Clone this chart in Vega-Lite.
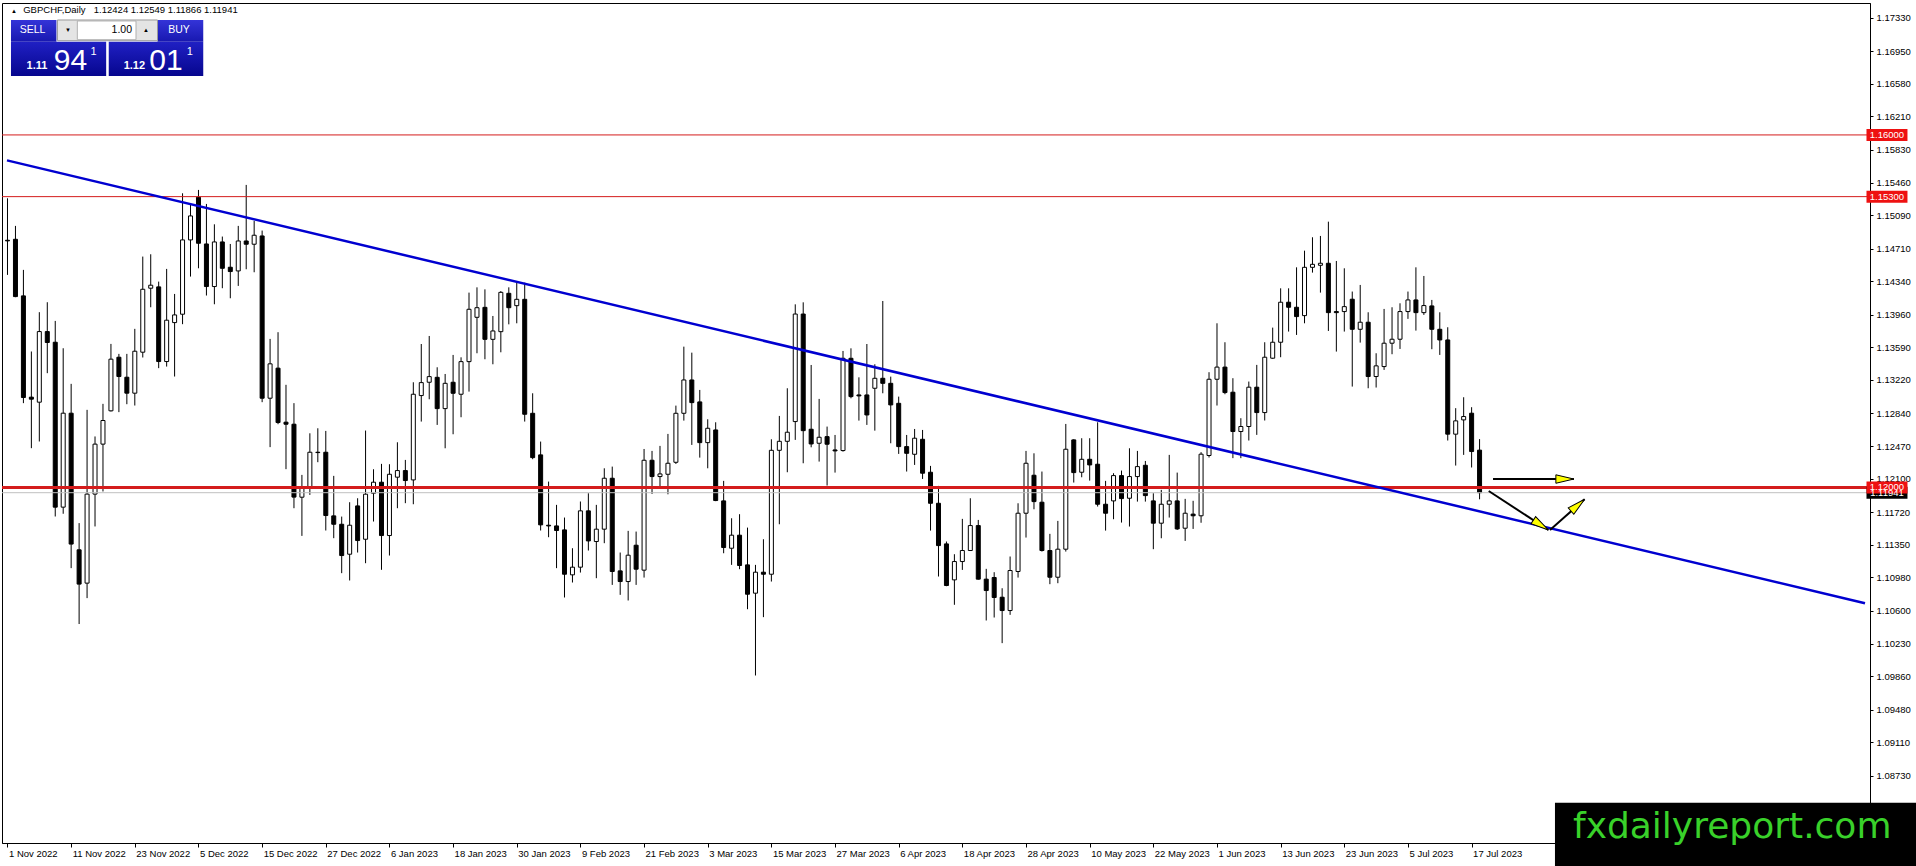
{
  "$schema": "https://vega.github.io/schema/vega-lite/v6.json",
  "width": 1868,
  "height": 840,
  "autosize": {"type": "none"},
  "padding": {"left": 2, "top": 3, "right": 46, "bottom": 23},
  "background": "white",
  "datasets": {
    "candles": [
      {"date": "2022-11-01", "open": 1.14805, "high": 1.15281, "low": 1.14412, "close": 1.14798},
      {"date": "2022-11-02", "open": 1.14816, "high": 1.14968, "low": 1.14159, "close": 1.14166},
      {"date": "2022-11-03", "open": 1.14174, "high": 1.14469, "low": 1.12957, "close": 1.13021},
      {"date": "2022-11-04", "open": 1.13025, "high": 1.13543, "low": 1.12446, "close": 1.13002},
      {"date": "2022-11-07", "open": 1.12968, "high": 1.13989, "low": 1.12522, "close": 1.13769},
      {"date": "2022-11-08", "open": 1.13769, "high": 1.14102, "low": 1.13297, "close": 1.13645},
      {"date": "2022-11-09", "open": 1.13648, "high": 1.1389, "low": 1.11671, "close": 1.11777},
      {"date": "2022-11-10", "open": 1.11777, "high": 1.1358, "low": 1.11702, "close": 1.12843},
      {"date": "2022-11-11", "open": 1.12843, "high": 1.13176, "low": 1.11085, "close": 1.11358},
      {"date": "2022-11-14", "open": 1.11293, "high": 1.11596, "low": 1.10451, "close": 1.10904},
      {"date": "2022-11-15", "open": 1.10915, "high": 1.12881, "low": 1.10745, "close": 1.11925},
      {"date": "2022-11-16", "open": 1.11925, "high": 1.12579, "low": 1.11558, "close": 1.12492},
      {"date": "2022-11-17", "open": 1.12492, "high": 1.12949, "low": 1.11955, "close": 1.1276},
      {"date": "2022-11-18", "open": 1.1287, "high": 1.13629, "low": 1.12862, "close": 1.13456},
      {"date": "2022-11-21", "open": 1.13478, "high": 1.13516, "low": 1.12855, "close": 1.13259},
      {"date": "2022-11-22", "open": 1.13251, "high": 1.13516, "low": 1.12945, "close": 1.1307},
      {"date": "2022-11-23", "open": 1.1307, "high": 1.138, "low": 1.1293, "close": 1.13546},
      {"date": "2022-11-24", "open": 1.13535, "high": 1.1462, "low": 1.13475, "close": 1.14249},
      {"date": "2022-11-25", "open": 1.14261, "high": 1.14646, "low": 1.14045, "close": 1.14295},
      {"date": "2022-11-28", "open": 1.14276, "high": 1.14336, "low": 1.13354, "close": 1.13429},
      {"date": "2022-11-29", "open": 1.13429, "high": 1.1448, "low": 1.13372, "close": 1.13898},
      {"date": "2022-11-30", "open": 1.13871, "high": 1.14196, "low": 1.13259, "close": 1.13958},
      {"date": "2022-12-01", "open": 1.13966, "high": 1.15338, "low": 1.13853, "close": 1.14809},
      {"date": "2022-12-02", "open": 1.14809, "high": 1.15225, "low": 1.14393, "close": 1.15081},
      {"date": "2022-12-05", "open": 1.15293, "high": 1.15376, "low": 1.14487, "close": 1.14771},
      {"date": "2022-12-06", "open": 1.14763, "high": 1.15217, "low": 1.14178, "close": 1.1428},
      {"date": "2022-12-07", "open": 1.1428, "high": 1.14986, "low": 1.14079, "close": 1.14786},
      {"date": "2022-12-08", "open": 1.14786, "high": 1.14847, "low": 1.14261, "close": 1.14487},
      {"date": "2022-12-09", "open": 1.14499, "high": 1.14763, "low": 1.14147, "close": 1.1445},
      {"date": "2022-12-12", "open": 1.14457, "high": 1.14968, "low": 1.14287, "close": 1.14797},
      {"date": "2022-12-13", "open": 1.14797, "high": 1.15433, "low": 1.14476, "close": 1.1476},
      {"date": "2022-12-14", "open": 1.1476, "high": 1.15024, "low": 1.14442, "close": 1.14862},
      {"date": "2022-12-15", "open": 1.14854, "high": 1.14915, "low": 1.12968, "close": 1.13013},
      {"date": "2022-12-16", "open": 1.13013, "high": 1.13686, "low": 1.12458, "close": 1.13403},
      {"date": "2022-12-19", "open": 1.13354, "high": 1.13762, "low": 1.12718, "close": 1.12737},
      {"date": "2022-12-20", "open": 1.12741, "high": 1.13165, "low": 1.12208, "close": 1.12718},
      {"date": "2022-12-21", "open": 1.12718, "high": 1.12957, "low": 1.11765, "close": 1.11891},
      {"date": "2022-12-22", "open": 1.1189, "high": 1.12143, "low": 1.11451, "close": 1.12011},
      {"date": "2022-12-23", "open": 1.12011, "high": 1.12615, "low": 1.11916, "close": 1.124},
      {"date": "2022-12-26", "open": 1.124, "high": 1.12672, "low": 1.12287, "close": 1.12396},
      {"date": "2022-12-27", "open": 1.124, "high": 1.12642, "low": 1.11512, "close": 1.11682},
      {"date": "2022-12-28", "open": 1.11678, "high": 1.12132, "low": 1.11425, "close": 1.11583},
      {"date": "2022-12-29", "open": 1.11583, "high": 1.1167, "low": 1.11028, "close": 1.11228},
      {"date": "2022-12-30", "open": 1.11243, "high": 1.11833, "low": 1.10945, "close": 1.11572},
      {"date": "2023-01-02", "open": 1.11791, "high": 1.11878, "low": 1.11262, "close": 1.11398},
      {"date": "2023-01-03", "open": 1.11413, "high": 1.12646, "low": 1.11141, "close": 1.11924},
      {"date": "2023-01-04", "open": 1.11935, "high": 1.12207, "low": 1.11614, "close": 1.1206},
      {"date": "2023-01-05", "open": 1.1206, "high": 1.12268, "low": 1.11066, "close": 1.11455},
      {"date": "2023-01-06", "open": 1.11455, "high": 1.12264, "low": 1.11228, "close": 1.1215},
      {"date": "2023-01-09", "open": 1.12117, "high": 1.12513, "low": 1.11765, "close": 1.12192},
      {"date": "2023-01-10", "open": 1.12192, "high": 1.12313, "low": 1.11822, "close": 1.12079},
      {"date": "2023-01-11", "open": 1.12086, "high": 1.13194, "low": 1.1181, "close": 1.13058},
      {"date": "2023-01-12", "open": 1.13043, "high": 1.13628, "low": 1.12748, "close": 1.1319},
      {"date": "2023-01-13", "open": 1.13194, "high": 1.13719, "low": 1.13001, "close": 1.13258},
      {"date": "2023-01-16", "open": 1.1325, "high": 1.13364, "low": 1.1271, "close": 1.12895},
      {"date": "2023-01-17", "open": 1.12895, "high": 1.13288, "low": 1.12445, "close": 1.13182},
      {"date": "2023-01-18", "open": 1.13194, "high": 1.13504, "low": 1.12604, "close": 1.13069},
      {"date": "2023-01-19", "open": 1.13058, "high": 1.13477, "low": 1.12797, "close": 1.13428},
      {"date": "2023-01-20", "open": 1.13428, "high": 1.14211, "low": 1.13088, "close": 1.14022},
      {"date": "2023-01-23", "open": 1.13931, "high": 1.14271, "low": 1.13523, "close": 1.1404},
      {"date": "2023-01-24", "open": 1.14044, "high": 1.14248, "low": 1.13455, "close": 1.13681},
      {"date": "2023-01-25", "open": 1.13681, "high": 1.13946, "low": 1.13398, "close": 1.13776},
      {"date": "2023-01-26", "open": 1.13768, "high": 1.14229, "low": 1.13534, "close": 1.14214},
      {"date": "2023-01-27", "open": 1.14203, "high": 1.14271, "low": 1.13851, "close": 1.1404},
      {"date": "2023-01-30", "open": 1.14063, "high": 1.14335, "low": 1.13863, "close": 1.14135},
      {"date": "2023-01-31", "open": 1.14135, "high": 1.14324, "low": 1.12748, "close": 1.12831},
      {"date": "2023-02-01", "open": 1.12842, "high": 1.13069, "low": 1.12321, "close": 1.12339},
      {"date": "2023-02-02", "open": 1.1237, "high": 1.12521, "low": 1.11512, "close": 1.11576},
      {"date": "2023-02-03", "open": 1.11572, "high": 1.12067, "low": 1.11436, "close": 1.11564},
      {"date": "2023-02-06", "open": 1.11564, "high": 1.11803, "low": 1.11085, "close": 1.11512},
      {"date": "2023-02-07", "open": 1.11519, "high": 1.11659, "low": 1.10752, "close": 1.11016},
      {"date": "2023-02-08", "open": 1.11009, "high": 1.11311, "low": 1.10922, "close": 1.11096},
      {"date": "2023-02-09", "open": 1.11096, "high": 1.11841, "low": 1.11035, "close": 1.11735},
      {"date": "2023-02-10", "open": 1.11735, "high": 1.11935, "low": 1.11285, "close": 1.11394},
      {"date": "2023-02-13", "open": 1.11387, "high": 1.11803, "low": 1.10971, "close": 1.11527},
      {"date": "2023-02-14", "open": 1.11527, "high": 1.12218, "low": 1.11368, "close": 1.12105},
      {"date": "2023-02-15", "open": 1.12105, "high": 1.12237, "low": 1.10895, "close": 1.11047},
      {"date": "2023-02-16", "open": 1.11054, "high": 1.11262, "low": 1.10782, "close": 1.10933},
      {"date": "2023-02-17", "open": 1.10933, "high": 1.11508, "low": 1.10718, "close": 1.11232},
      {"date": "2023-02-20", "open": 1.11345, "high": 1.115, "low": 1.10895, "close": 1.11073},
      {"date": "2023-02-21", "open": 1.11062, "high": 1.12437, "low": 1.10978, "close": 1.12309},
      {"date": "2023-02-22", "open": 1.12309, "high": 1.12415, "low": 1.11927, "close": 1.12124},
      {"date": "2023-02-23", "open": 1.12124, "high": 1.12472, "low": 1.11992, "close": 1.12154},
      {"date": "2023-02-24", "open": 1.1215, "high": 1.12608, "low": 1.11923, "close": 1.12275},
      {"date": "2023-02-27", "open": 1.12286, "high": 1.12929, "low": 1.12267, "close": 1.12842},
      {"date": "2023-02-28", "open": 1.12842, "high": 1.13598, "low": 1.12759, "close": 1.1322},
      {"date": "2023-03-01", "open": 1.1322, "high": 1.1353, "low": 1.12483, "close": 1.12963},
      {"date": "2023-03-02", "open": 1.12971, "high": 1.13107, "low": 1.12339, "close": 1.12509},
      {"date": "2023-03-03", "open": 1.12509, "high": 1.12774, "low": 1.12218, "close": 1.12672},
      {"date": "2023-03-06", "open": 1.12653, "high": 1.1274, "low": 1.11845, "close": 1.11852},
      {"date": "2023-03-07", "open": 1.11848, "high": 1.12075, "low": 1.11254, "close": 1.11319},
      {"date": "2023-03-08", "open": 1.11311, "high": 1.11651, "low": 1.11122, "close": 1.11459},
      {"date": "2023-03-09", "open": 1.11459, "high": 1.11697, "low": 1.11073, "close": 1.11115},
      {"date": "2023-03-10", "open": 1.11122, "high": 1.11545, "low": 1.10619, "close": 1.10789},
      {"date": "2023-03-13", "open": 1.10801, "high": 1.11122, "low": 1.09867, "close": 1.11039},
      {"date": "2023-03-14", "open": 1.11039, "high": 1.11413, "low": 1.10529, "close": 1.11016},
      {"date": "2023-03-15", "open": 1.11016, "high": 1.12547, "low": 1.10933, "close": 1.12422},
      {"date": "2023-03-16", "open": 1.12422, "high": 1.12812, "low": 1.11583, "close": 1.12524},
      {"date": "2023-03-17", "open": 1.12524, "high": 1.13126, "low": 1.12173, "close": 1.12627},
      {"date": "2023-03-20", "open": 1.12748, "high": 1.14078, "low": 1.1254, "close": 1.13968},
      {"date": "2023-03-21", "open": 1.13968, "high": 1.14101, "low": 1.12275, "close": 1.12645},
      {"date": "2023-03-22", "open": 1.12661, "high": 1.1339, "low": 1.12456, "close": 1.12494},
      {"date": "2023-03-23", "open": 1.12502, "high": 1.13005, "low": 1.12294, "close": 1.1257},
      {"date": "2023-03-24", "open": 1.12577, "high": 1.12691, "low": 1.12022, "close": 1.12491},
      {"date": "2023-03-27", "open": 1.12426, "high": 1.12596, "low": 1.12169, "close": 1.12415},
      {"date": "2023-03-28", "open": 1.12419, "high": 1.13549, "low": 1.12407, "close": 1.13466},
      {"date": "2023-03-29", "open": 1.13466, "high": 1.13579, "low": 1.13012, "close": 1.13031},
      {"date": "2023-03-30", "open": 1.1305, "high": 1.1325, "low": 1.12759, "close": 1.13039},
      {"date": "2023-03-31", "open": 1.1305, "high": 1.13628, "low": 1.1271, "close": 1.12823},
      {"date": "2023-04-03", "open": 1.13126, "high": 1.13398, "low": 1.12645, "close": 1.13239},
      {"date": "2023-04-04", "open": 1.13239, "high": 1.14116, "low": 1.13069, "close": 1.13182},
      {"date": "2023-04-05", "open": 1.13182, "high": 1.13258, "low": 1.12502, "close": 1.12937},
      {"date": "2023-04-06", "open": 1.12955, "high": 1.13031, "low": 1.12381, "close": 1.12464},
      {"date": "2023-04-07", "open": 1.12464, "high": 1.12596, "low": 1.12181, "close": 1.12388},
      {"date": "2023-04-10", "open": 1.12377, "high": 1.12664, "low": 1.12256, "close": 1.12559},
      {"date": "2023-04-11", "open": 1.12547, "high": 1.12653, "low": 1.12097, "close": 1.12162},
      {"date": "2023-04-12", "open": 1.12173, "high": 1.12245, "low": 1.11511, "close": 1.11821},
      {"date": "2023-04-13", "open": 1.11821, "high": 1.12018, "low": 1.1099, "close": 1.11341},
      {"date": "2023-04-14", "open": 1.1136, "high": 1.11387, "low": 1.1088, "close": 1.10888},
      {"date": "2023-04-17", "open": 1.10952, "high": 1.11243, "low": 1.10669, "close": 1.1116},
      {"date": "2023-04-18", "open": 1.1116, "high": 1.11644, "low": 1.11065, "close": 1.11285},
      {"date": "2023-04-19", "open": 1.11285, "high": 1.11878, "low": 1.1128, "close": 1.11568},
      {"date": "2023-04-20", "open": 1.11568, "high": 1.11632, "low": 1.10955, "close": 1.1096},
      {"date": "2023-04-21", "open": 1.1096, "high": 1.11077, "low": 1.10491, "close": 1.10831},
      {"date": "2023-04-24", "open": 1.10979, "high": 1.11039, "low": 1.10525, "close": 1.10752},
      {"date": "2023-04-25", "open": 1.10755, "high": 1.10857, "low": 1.10234, "close": 1.10604},
      {"date": "2023-04-26", "open": 1.10604, "high": 1.11217, "low": 1.10555, "close": 1.11058},
      {"date": "2023-04-27", "open": 1.11047, "high": 1.11821, "low": 1.10978, "close": 1.11708},
      {"date": "2023-04-28", "open": 1.11708, "high": 1.12415, "low": 1.11432, "close": 1.12275},
      {"date": "2023-05-01", "open": 1.12139, "high": 1.12388, "low": 1.11753, "close": 1.1184},
      {"date": "2023-05-02", "open": 1.11833, "high": 1.12181, "low": 1.11273, "close": 1.11285},
      {"date": "2023-05-03", "open": 1.11285, "high": 1.11474, "low": 1.10903, "close": 1.10982},
      {"date": "2023-05-04", "open": 1.10982, "high": 1.11621, "low": 1.10914, "close": 1.113},
      {"date": "2023-05-05", "open": 1.113, "high": 1.12721, "low": 1.11273, "close": 1.12434},
      {"date": "2023-05-08", "open": 1.1254, "high": 1.12547, "low": 1.12056, "close": 1.12169},
      {"date": "2023-05-09", "open": 1.12173, "high": 1.12559, "low": 1.12116, "close": 1.1232},
      {"date": "2023-05-10", "open": 1.1232, "high": 1.12559, "low": 1.12078, "close": 1.12256},
      {"date": "2023-05-11", "open": 1.12264, "high": 1.1274, "low": 1.11784, "close": 1.1181},
      {"date": "2023-05-12", "open": 1.1181, "high": 1.12075, "low": 1.11511, "close": 1.11708},
      {"date": "2023-05-15", "open": 1.11848, "high": 1.12162, "low": 1.1164, "close": 1.12135},
      {"date": "2023-05-16", "open": 1.12135, "high": 1.12192, "low": 1.11602, "close": 1.11874},
      {"date": "2023-05-17", "open": 1.11878, "high": 1.12445, "low": 1.11557, "close": 1.12124},
      {"date": "2023-05-18", "open": 1.12124, "high": 1.12415, "low": 1.1184, "close": 1.12237},
      {"date": "2023-05-19", "open": 1.12252, "high": 1.12301, "low": 1.1184, "close": 1.11908},
      {"date": "2023-05-22", "open": 1.11848, "high": 1.11935, "low": 1.113, "close": 1.11595},
      {"date": "2023-05-23", "open": 1.11595, "high": 1.11973, "low": 1.11424, "close": 1.1181},
      {"date": "2023-05-24", "open": 1.1181, "high": 1.1237, "low": 1.11659, "close": 1.11848},
      {"date": "2023-05-25", "open": 1.11848, "high": 1.12169, "low": 1.11519, "close": 1.1153},
      {"date": "2023-05-26", "open": 1.11538, "high": 1.11871, "low": 1.11394, "close": 1.11708},
      {"date": "2023-05-29", "open": 1.11698, "high": 1.11849, "low": 1.1153, "close": 1.11679},
      {"date": "2023-05-30", "open": 1.11679, "high": 1.12401, "low": 1.116, "close": 1.12378},
      {"date": "2023-05-31", "open": 1.12363, "high": 1.13308, "low": 1.1234, "close": 1.13228},
      {"date": "2023-06-01", "open": 1.13228, "high": 1.13863, "low": 1.1293, "close": 1.13366},
      {"date": "2023-06-02", "open": 1.13366, "high": 1.13648, "low": 1.13058, "close": 1.13077},
      {"date": "2023-06-05", "open": 1.13081, "high": 1.1324, "low": 1.12333, "close": 1.12635},
      {"date": "2023-06-06", "open": 1.12635, "high": 1.12786, "low": 1.12333, "close": 1.12692},
      {"date": "2023-06-07", "open": 1.12692, "high": 1.13202, "low": 1.12533, "close": 1.13138},
      {"date": "2023-06-08", "open": 1.13138, "high": 1.13391, "low": 1.12597, "close": 1.1285},
      {"date": "2023-06-09", "open": 1.1285, "high": 1.13648, "low": 1.1276, "close": 1.13478},
      {"date": "2023-06-12", "open": 1.13467, "high": 1.13814, "low": 1.1346, "close": 1.13648},
      {"date": "2023-06-13", "open": 1.13648, "high": 1.1426, "low": 1.13478, "close": 1.14102},
      {"date": "2023-06-14", "open": 1.14102, "high": 1.1426, "low": 1.13769, "close": 1.14045},
      {"date": "2023-06-15", "open": 1.14045, "high": 1.14498, "low": 1.13731, "close": 1.13939},
      {"date": "2023-06-16", "open": 1.1395, "high": 1.14687, "low": 1.13863, "close": 1.14498},
      {"date": "2023-06-19", "open": 1.14498, "high": 1.14839, "low": 1.14438, "close": 1.14532},
      {"date": "2023-06-20", "open": 1.14521, "high": 1.14854, "low": 1.14211, "close": 1.14544},
      {"date": "2023-06-21", "open": 1.14544, "high": 1.15016, "low": 1.13776, "close": 1.13984},
      {"date": "2023-06-22", "open": 1.13996, "high": 1.1457, "low": 1.13542, "close": 1.13984},
      {"date": "2023-06-23", "open": 1.13996, "high": 1.14487, "low": 1.13769, "close": 1.14052},
      {"date": "2023-06-26", "open": 1.14136, "high": 1.14223, "low": 1.13145, "close": 1.13795},
      {"date": "2023-06-27", "open": 1.13795, "high": 1.14298, "low": 1.13644, "close": 1.13875},
      {"date": "2023-06-28", "open": 1.13875, "high": 1.13988, "low": 1.13126, "close": 1.13259},
      {"date": "2023-06-29", "open": 1.13259, "high": 1.13523, "low": 1.13134, "close": 1.1338},
      {"date": "2023-06-30", "open": 1.13372, "high": 1.14026, "low": 1.13334, "close": 1.13637},
      {"date": "2023-07-03", "open": 1.13637, "high": 1.14045, "low": 1.13512, "close": 1.13682},
      {"date": "2023-07-04", "open": 1.13682, "high": 1.1409, "low": 1.13572, "close": 1.13996},
      {"date": "2023-07-05", "open": 1.13996, "high": 1.14223, "low": 1.13913, "close": 1.14128},
      {"date": "2023-07-06", "open": 1.14128, "high": 1.14498, "low": 1.1378, "close": 1.13984},
      {"date": "2023-07-07", "open": 1.13984, "high": 1.144, "low": 1.13958, "close": 1.14064},
      {"date": "2023-07-10", "open": 1.1406, "high": 1.14128, "low": 1.13569, "close": 1.13795},
      {"date": "2023-07-11", "open": 1.13795, "high": 1.13988, "low": 1.13504, "close": 1.13674},
      {"date": "2023-07-12", "open": 1.13674, "high": 1.13818, "low": 1.12533, "close": 1.12605},
      {"date": "2023-07-13", "open": 1.12605, "high": 1.129, "low": 1.12249, "close": 1.12756},
      {"date": "2023-07-14", "open": 1.12767, "high": 1.13024, "low": 1.1237, "close": 1.12805},
      {"date": "2023-07-17", "open": 1.12843, "high": 1.12911, "low": 1.12227, "close": 1.12408},
      {"date": "2023-07-18", "open": 1.12424, "high": 1.12549, "low": 1.11866, "close": 1.11941}
    ],
    "levels": [
      {"price": 1.11941, "kind": "bid"},
      {"price": 1.16, "kind": "level"},
      {"price": 1.153, "kind": "level"},
      {"price": 1.12, "kind": "level"}
    ],
    "trend": [
      {"n": 0.9375, "price": 1.15711},
      {"n": 234.4375, "price": 1.10687}
    ],
    "arrows": [
      {"from_n": 187.69, "from_price": 1.12096, "to_n": 197.85, "to_price": 1.12096, "angle": 0},
      {"from_n": 187.15, "from_price": 1.1196, "to_n": 194.65, "to_price": 1.11518, "angle": 33},
      {"from_n": 194.85, "from_price": 1.11518, "to_n": 199.2, "to_price": 1.11866, "angle": -41}
    ],
    "one": [{}]
  },
  "layer": [
    {
      "data": {"name": "candles"},
      "transform": [{"window": [{"op": "row_number", "as": "n"}]}],
      "layer": [
        {
          "mark": {"type": "rule", "color": "black", "strokeWidth": 1},
          "encoding": {
            "x": {
              "field": "n", "type": "quantitative", "title": null,
              "scale": {"domain": [0.9375, 234.4375], "nice": false, "zero": false},
              "axis": {
                "values": [1, 9, 17, 25, 33, 41, 49, 57, 65, 73, 81, 89, 97, 105, 113, 121, 129, 137, 145, 153, 161, 169, 177, 185],
                "tickCount": 100,
                "labelExpr": "['1 Nov 2022','11 Nov 2022','23 Nov 2022','5 Dec 2022','15 Dec 2022','27 Dec 2022','6 Jan 2023','18 Jan 2023','30 Jan 2023','9 Feb 2023','21 Feb 2023','3 Mar 2023','15 Mar 2023','27 Mar 2023','6 Apr 2023','18 Apr 2023','28 Apr 2023','10 May 2023','22 May 2023','1 Jun 2023','13 Jun 2023','23 Jun 2023','5 Jul 2023','17 Jul 2023'][(datum.value - 1) / 8]",
                "grid": false, "tickSize": 4, "labelPadding": 1, "labelAlign": "left", "labelOffset": 1
              }
            },
            "y": {
              "field": "low", "type": "quantitative", "title": null,
              "scale": {"domain": [1.079666, 1.174969], "nice": false, "zero": false},
              "axis": {
                "orient": "right",
                "values": [1.1733, 1.1695, 1.1658, 1.1621, 1.1583, 1.1546, 1.1509, 1.1471, 1.1434, 1.1396, 1.1359, 1.1322, 1.1284, 1.1247, 1.121, 1.1172, 1.1135, 1.1098, 1.106, 1.1023, 1.0986, 1.0948, 1.0911, 1.0873, 1.0835],
                "tickCount": 100,
                "format": ".5f", "grid": false, "tickSize": 3, "labelPadding": 3
              }
            },
            "y2": {"field": "high"}
          }
        },
        {
          "mark": {"type": "bar", "orient": "vertical", "width": 4, "stroke": "black", "strokeWidth": 1},
          "encoding": {
            "x": {"field": "n", "type": "quantitative", "title": null},
            "y": {"field": "open", "type": "quantitative", "title": null},
            "y2": {"field": "close"},
            "fill": {"condition": {"test": "datum.close < datum.open", "value": "black"}, "value": "white"}
          }
        }
      ]
    },
    {
      "data": {"name": "levels"},
      "mark": {"type": "rule"},
      "encoding": {
        "y": {"field": "price", "type": "quantitative", "title": null},
        "color": {"condition": {"test": "datum.kind == 'bid'", "value": "#c0c0c0"}, "value": "#d41c1c"},
        "strokeWidth": {"condition": {"test": "datum.price == 1.12", "value": 3}, "value": 1}
      }
    },
    {
      "data": {"name": "trend"},
      "mark": {"type": "line", "color": "#0000d0", "strokeWidth": 2.5},
      "encoding": {
        "x": {"field": "n", "type": "quantitative", "title": null},
        "y": {"field": "price", "type": "quantitative", "title": null}
      }
    },
    {
      "data": {"name": "arrows"},
      "mark": {"type": "rule", "color": "black", "strokeWidth": 2},
      "encoding": {
        "x": {"field": "from_n", "type": "quantitative", "title": null},
        "y": {"field": "from_price", "type": "quantitative", "title": null},
        "x2": {"field": "to_n"},
        "y2": {"field": "to_price"}
      }
    },
    {
      "data": {"name": "arrows"},
      "mark": {"type": "point", "shape": "M0,0L-2,-0.47L-2,0.47Z", "size": 324, "filled": true, "color": "#ffff00", "stroke": "black", "strokeWidth": 1, "opacity": 1},
      "encoding": {
        "x": {"field": "to_n", "type": "quantitative", "title": null},
        "y": {"field": "to_price", "type": "quantitative", "title": null},
        "angle": {"field": "angle", "type": "quantitative", "scale": null}
      }
    },
    {
      "data": {"name": "levels"},
      "mark": {"type": "rect", "yOffset": -6, "y2Offset": 6},
      "encoding": {
        "x": {"datum": 234.625},
        "x2": {"datum": 239.775},
        "y": {"field": "price", "type": "quantitative", "title": null},
        "y2": {"field": "price"},
        "color": {"condition": {"test": "datum.kind == 'bid'", "value": "black"}, "value": "#ee1111"}
      }
    },
    {
      "data": {"name": "levels"},
      "mark": {"type": "text", "color": "white", "font": "Liberation Sans", "fontSize": 9.5, "align": "center", "baseline": "middle"},
      "encoding": {
        "x": {"datum": 237.2},
        "y": {"field": "price", "type": "quantitative", "title": null},
        "text": {"field": "price", "type": "quantitative", "format": ".5f"}
      }
    },
    {
      "data": {"name": "one"},
      "layer": [
        {
          "mark": {"type": "text", "color": "black", "font": "Liberation Sans", "fontSize": 6, "align": "left", "baseline": "alphabetic"},
          "encoding": {"x": {"datum": 1.4375}, "y": {"datum": 1.17384}, "text": {"value": "▲"}}
        },
        {
          "mark": {"type": "text", "color": "black", "font": "Liberation Sans", "fontSize": 9.5, "align": "left", "baseline": "alphabetic"},
          "encoding": {"x": {"datum": 2.975}, "y": {"datum": 1.1738}, "text": {"value": "GBPCHF,Daily"}}
        },
        {
          "mark": {"type": "text", "color": "black", "font": "Liberation Sans", "fontSize": 9.5, "align": "left", "baseline": "alphabetic"},
          "encoding": {"x": {"datum": 11.85}, "y": {"datum": 1.1738}, "text": {"value": "1.12424 1.12549 1.11866 1.11941"}}
        },
        {
          "mark": {"type": "rect", "color": {"gradient": "linear", "x1": 0, "y1": 0, "x2": 0, "y2": 1, "stops": [{"offset": 0, "color": "#3434d8"}, {"offset": 1, "color": "#1818b0"}]}},
          "encoding": {"x": {"datum": 1.4375}, "x2": {"datum": 7.15}, "y": {"datum": 1.173041}, "y2": {"datum": 1.17058}}
        },
        {
          "mark": {"type": "rect", "color": {"gradient": "linear", "x1": 0, "y1": 0, "x2": 0, "y2": 1, "stops": [{"offset": 0, "color": "#3434d8"}, {"offset": 1, "color": "#1818b0"}]}},
          "encoding": {"x": {"datum": 19.85}, "x2": {"datum": 25.6}, "y": {"datum": 1.173041}, "y2": {"datum": 1.17058}}
        },
        {
          "mark": {"type": "rect", "fill": "#e4e4e4", "stroke": "#9a9a9a", "strokeWidth": 1},
          "encoding": {"x": {"datum": 7.275}, "x2": {"datum": 19.85}, "y": {"datum": 1.173041}, "y2": {"datum": 1.170693}}
        },
        {
          "mark": {"type": "rect", "fill": "white", "stroke": "#b0b0b0", "strokeWidth": 1},
          "encoding": {"x": {"datum": 9.775}, "x2": {"datum": 17.15}, "y": {"datum": 1.172929}, "y2": {"datum": 1.170806}}
        },
        {
          "mark": {"type": "rect", "color": {"gradient": "linear", "x1": 0, "y1": 0, "x2": 0, "y2": 1, "stops": [{"offset": 0, "color": "#2020c4"}, {"offset": 1, "color": "#06068e"}]}},
          "encoding": {"x": {"datum": 1.4375}, "x2": {"datum": 13.4}, "y": {"datum": 1.17058}, "y2": {"datum": 1.166688}}
        },
        {
          "mark": {"type": "rect", "color": {"gradient": "linear", "x1": 0, "y1": 0, "x2": 0, "y2": 1, "stops": [{"offset": 0, "color": "#2020c4"}, {"offset": 1, "color": "#06068e"}]}},
          "encoding": {"x": {"datum": 13.725}, "x2": {"datum": 25.6}, "y": {"datum": 1.17058}, "y2": {"datum": 1.166688}}
        },
        {
          "mark": {"type": "text", "color": "white", "font": "Liberation Sans", "fontSize": 10.5, "align": "center", "baseline": "middle"},
          "encoding": {"x": {"datum": 4.15}, "y": {"datum": 1.171851}, "text": {"value": "SELL"}}
        },
        {
          "mark": {"type": "text", "color": "white", "font": "Liberation Sans", "fontSize": 10.5, "align": "center", "baseline": "middle"},
          "encoding": {"x": {"datum": 22.56}, "y": {"datum": 1.171851}, "text": {"value": "BUY"}}
        },
        {
          "mark": {"type": "text", "color": "black", "font": "Liberation Sans", "fontSize": 10.5, "align": "right", "baseline": "middle"},
          "encoding": {"x": {"datum": 16.65}, "y": {"datum": 1.171851}, "text": {"value": "1.00"}}
        },
        {
          "mark": {"type": "text", "color": "black", "font": "Liberation Sans", "fontSize": 6, "align": "center", "baseline": "middle"},
          "encoding": {"x": {"datum": 8.6}, "y": {"datum": 1.171851}, "text": {"value": "▼"}}
        },
        {
          "mark": {"type": "text", "color": "black", "font": "Liberation Sans", "fontSize": 6, "align": "center", "baseline": "middle"},
          "encoding": {"x": {"datum": 18.4}, "y": {"datum": 1.171851}, "text": {"value": "▲"}}
        },
        {
          "mark": {"type": "text", "color": "white", "font": "Liberation Sans", "fontSize": 11, "fontWeight": "bold", "align": "left", "baseline": "alphabetic"},
          "encoding": {"x": {"datum": 3.4}, "y": {"datum": 1.167483}, "text": {"value": "1.11"}}
        },
        {
          "mark": {"type": "text", "color": "white", "font": "Liberation Sans", "fontSize": 30, "align": "left", "baseline": "alphabetic"},
          "encoding": {"x": {"datum": 6.8125}, "y": {"datum": 1.167313}, "text": {"value": "94"}}
        },
        {
          "mark": {"type": "text", "color": "white", "font": "Liberation Sans", "fontSize": 11, "align": "left", "baseline": "alphabetic"},
          "encoding": {"x": {"datum": 11.4375}, "y": {"datum": 1.169071}, "text": {"value": "1"}}
        },
        {
          "mark": {"type": "text", "color": "white", "font": "Liberation Sans", "fontSize": 11, "fontWeight": "bold", "align": "left", "baseline": "alphabetic"},
          "encoding": {"x": {"datum": 15.6}, "y": {"datum": 1.167483}, "text": {"value": "1.12"}}
        },
        {
          "mark": {"type": "text", "color": "white", "font": "Liberation Sans", "fontSize": 30, "align": "left", "baseline": "alphabetic"},
          "encoding": {"x": {"datum": 18.8125}, "y": {"datum": 1.167313}, "text": {"value": "01"}}
        },
        {
          "mark": {"type": "text", "color": "white", "font": "Liberation Sans", "fontSize": 11, "align": "left", "baseline": "alphabetic"},
          "encoding": {"x": {"datum": 23.525}, "y": {"datum": 1.169071}, "text": {"value": "1"}}
        },
        {
          "mark": {"type": "rect", "color": "black"},
          "encoding": {"x": {"datum": 195.475}, "x2": {"datum": 241}, "y": {"datum": 1.084237}, "y2": {"datum": 1.0765}}
        },
        {
          "mark": {"type": "text", "color": "#39d12a", "font": "DejaVu Sans", "fontSize": 36, "align": "center", "baseline": "alphabetic"},
          "encoding": {"x": {"datum": 217.75}, "y": {"datum": 1.08029}, "text": {"value": "fxdailyreport.com"}}
        }
      ]
    }
  ],
  "config": {
    "view": {"stroke": "black", "strokeWidth": 1},
    "axis": {
      "domainColor": "black",
      "tickColor": "black",
      "labelColor": "black",
      "labelFont": "Liberation Sans",
      "labelFontSize": 9.5,
      "labelOverlap": false,
      "labelBound": false,
      "labelFlush": false
    }
  }
}
